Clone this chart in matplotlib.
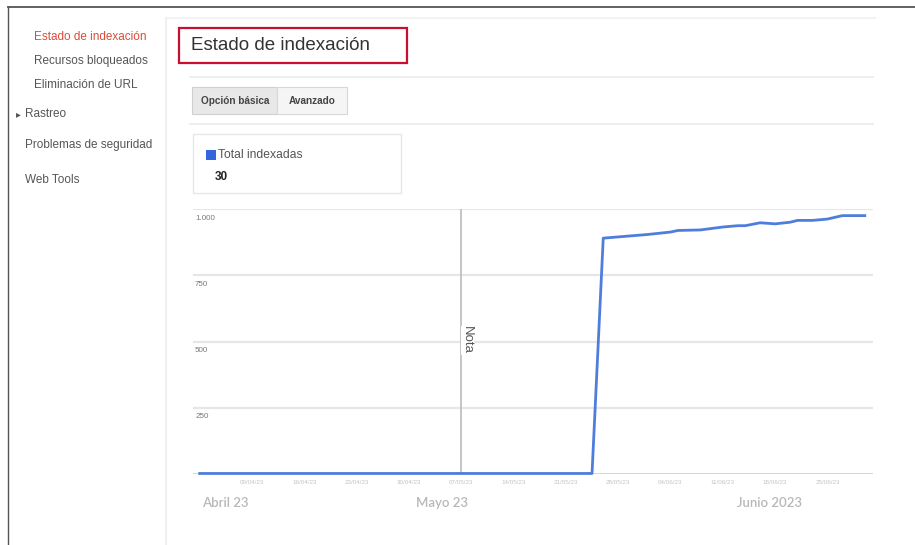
import matplotlib
matplotlib.use("Agg")
import matplotlib.pyplot as plt
from matplotlib.patches import Rectangle
from matplotlib.lines import Line2D

plt.rcParams['font.family'] = ['Liberation Sans', 'DejaVu Sans']

# datos (dia desde el inicio, total indexadas)
dias = [0, 52.5, 54, 60, 63, 64, 67, 70, 72, 73, 75, 77, 79, 80, 82, 84, 86, 89]
indexadas = [2, 2, 890, 904, 913, 919, 921, 932, 937, 937, 948, 944, 950, 957, 957, 962, 975, 975]

y_ticks = [250, 500, 750, 1000]
y_labels = ["250", "500", "750", "1.000"]

x_ticks = [7, 14, 21, 28, 35, 42, 49, 56, 63, 70, 77, 84]
x_labels = ["09/04/23", "16/04/23", "23/04/23", "30/04/23", "07/05/23", "14/05/23",
            "21/05/23", "28/05/23", "04/06/23", "11/06/23", "18/06/23", "25/06/23"]

meses = ["Abril 23", "Mayo 23", "Junio 2023"]
meses_pos = [3.4, 32.4, 76.2]

dia_nota = 35

menu = ["Estado de indexación", "Recursos bloqueados", "Eliminación de URL",
        "Rastreo", "Problemas de seguridad", "Web Tools"]

W, H = 915, 545
fig = plt.figure(figsize=(W / 100, H / 100), dpi=100)
fig.patch.set_facecolor("white")

def fx(px):
    return px / W

def fy(py):
    return 1 - py / H

# marco de la captura
fig.add_artist(Line2D([fx(8), 1], [fy(7), fy(7)], color="#555555", lw=1.3))
fig.add_artist(Line2D([fx(8), fx(8)], [fy(7), 0], color="#555555", lw=1.0))

# panel de contenido
fig.add_artist(Line2D([fx(166), fx(166)], [fy(18), 0], color="#f0f0f0", lw=1.5))
fig.add_artist(Line2D([fx(166), fx(875)], [fy(18), fy(18)], color="#f2f2f2", lw=1.5))

# menu lateral
menu_xy = [(34, 37), (34, 61), (34, 85), (25, 114), (25, 145), (25, 180)]
for i, (txt, (x, y)) in enumerate(zip(menu, menu_xy)):
    col = "#dd4b39" if i == 0 else "#555555"
    fig.text(fx(x), fy(y), txt, fontsize=8.5, color=col, va="center", ha="left")
fig.text(fx(16), fy(114), "▸", fontsize=7, color="#555555", va="center", ha="left",
         family=["DejaVu Sans"])

# titulo con recuadro rojo
fig.add_artist(Rectangle((fx(179), fy(63)), fx(407) - fx(179), fy(28) - fy(63),
                         fill=False, edgecolor="#c8102e", lw=1.6))
fig.text(fx(191), fy(45), "Estado de indexación", fontsize=13.5, color="#333333",
         va="center", ha="left")

fig.add_artist(Line2D([fx(190), fx(873)], [fy(77), fy(77)], color="#ebebeb", lw=1.2))

# botones
fig.add_artist(Rectangle((fx(192), fy(114)), fx(277) - fx(192), fy(87) - fy(114),
                         facecolor="#e8e8e8", edgecolor="#d0d0d0", lw=0.8))
fig.add_artist(Rectangle((fx(277), fy(114)), fx(347) - fx(277), fy(87) - fy(114),
                         facecolor="#f5f5f5", edgecolor="#d8d8d8", lw=0.8))
fig.text(fx(235), fy(100.5), "Opción básica", fontsize=7.2, fontweight="bold",
         color="#444444", ha="center", va="center")
fig.text(fx(312), fy(100.5), "Avanzado", fontsize=7.2, fontweight="bold",
         color="#444444", ha="center", va="center")

fig.add_artist(Line2D([fx(190), fx(873)], [fy(124), fy(124)], color="#ebebeb", lw=1.2))

# leyenda
fig.add_artist(Rectangle((fx(193), fy(193)), fx(401) - fx(193), fy(134) - fy(193),
                         facecolor="white", edgecolor="#e6e6e6", lw=1.0))
fig.add_artist(Rectangle((fx(206), fy(160)), fx(10), fy(150) - fy(160),
                         facecolor="#3366dd", edgecolor="none"))
fig.text(fx(218), fy(155.5), "Total indexadas", fontsize=8.7, color="#555555",
         va="center", ha="left")
fig.text(fx(215), fy(176.5), "30", fontsize=8.5, fontweight="bold", color="#222222",
         va="center", ha="left")

# grafico
ax = fig.add_axes([fx(193), fy(474), fx(873) - fx(193), fy(209) - fy(474)])
ax.set_xlim(-0.9, 90.1)
ax.set_ylim(0, 1000)
for s in ax.spines.values():
    s.set_visible(False)
ax.set_yticks([])
ax.set_xticks(x_ticks)
ax.set_xticklabels(x_labels, fontsize=4.5, color="#c4c4c4")
ax.tick_params(axis="x", length=0, pad=4)

for v, lab in zip(y_ticks, y_labels):
    ax.axhline(v, color="#e6e6e6", lw=1.6, zorder=1, xmin=-0.005)
    ax.annotate(lab, xy=(0, v), xycoords=("axes fraction", "data"),
                xytext=(1.5, -4), textcoords="offset points",
                fontsize=5.8, color="#777777", ha="left", va="top")
ax.axhline(0, color="#d2d2d2", lw=2.0, zorder=1)

ax.axvline(dia_nota, color="#c0c0c0", lw=1.3, zorder=2)
ax.text(dia_nota + 0.8, 505, "Nota", rotation=-90, fontsize=9.5, color="#555555",
        ha="center", va="center", zorder=4,
        bbox=dict(facecolor="white", edgecolor="none", pad=0.5))

ax.plot(dias, indexadas, color="#4f7ddc", lw=2.0, zorder=3, clip_on=False,
        solid_joinstyle="round")

for m, p in zip(meses, meses_pos):
    ax.text(p, -0.11, m, transform=ax.get_xaxis_transform(), fontsize=9.5,
            color="#b8b8b8", ha="center", va="center", fontweight="semibold",
            family=["Lato", "DejaVu Sans"])

fig.savefig("out.png", dpi=100)
